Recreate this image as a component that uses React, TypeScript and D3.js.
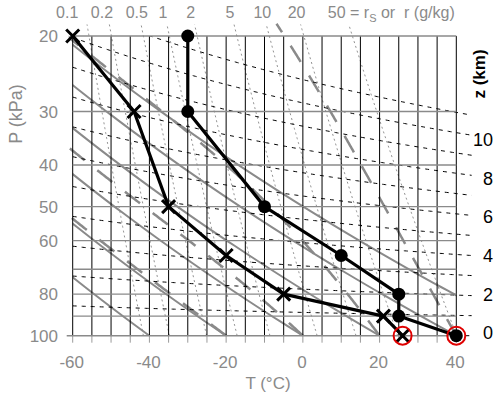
import React from 'react';
import * as d3 from 'd3';

const W = 494;
const H = 399;

// Sounding: temperature (dots) and dew point (crosses), T in °C, P in kPa
const tempP = [100, 90, 80, 65, 50, 30, 20];
const tempT = [40, 25, 25, 10, -10, -30, -30];
const dewP = [100, 90, 80, 65, 50, 30, 20];
const dewT = [26, 21, -5, -20, -35, -44, -60];

// Axes
const pressureTicks = [20, 30, 40, 50, 60, 80, 100];
const isobars = [20, 30, 40, 50, 60, 70, 80, 90, 100];
const tempTicks = [-60, -40, -20, 0, 20, 40];
const isotherms = [-60, -55, -50, -45, -40, -35, -30, -25, -20, -15, -10, -5, 0, 5, 10, 15, 20, 25, 30, 35, 40];

// Reference lines
const dryAdiabats = [-40, -20, 0, 20, 40, 60]; // potential temperature, °C
const moistAdiabats = [-20, 0, 20, 40]; // wet-bulb potential temperature, °C
const mixingRatios = [0.1, 0.2, 0.5, 1, 2, 5, 10, 20, 50]; // g/kg
const heightLines = [1, 2, 3, 4, 5, 6, 7, 8, 9, 10, 11]; // km
const heightLabels = [0, 2, 4, 6, 8, 10]; // km

const Rd = 287;
const cp = 1004;
const Lv = 2.5e6;
const eps = 0.622;
const g = 9.8;
const kappa = Rd / cp;

const x = d3.scaleLinear().domain([-60, 40]).range([72.7, 456.3]);
const y = d3.scaleLog().domain([100, 20]).range([335.7, 36]);

const line = d3
  .line<[number, number]>()
  .x((d) => x(d[0]))
  .y((d) => y(d[1]));

// saturation vapour pressure over water (kPa), T in °C
const es = (t: number) => 0.6112 * Math.exp((17.67 * t) / (t + 243.5));

const logSteps = (p0: number, p1: number, n: number) =>
  d3.range(n + 1).map((i) => p0 * Math.pow(p1 / p0, i / n));

const dryPath = (theta: number) =>
  line(logSteps(100, 20, 80).map((p) => [(theta + 273.15) * Math.pow(p / 100, kappa) - 273.15, p]));

const mixPoint = (r: number, p: number): [number, number] => {
  const e = (r * p) / (622 + r);
  const l = Math.log(e / 0.6112);
  return [(243.5 * l) / (17.67 - l), p];
};
const mixPath = (r: number) => line(logSteps(100, 18.8, 60).map((p) => mixPoint(r, p)));

// pseudo-adiabatic dT/dlnP
const moistRate = (tk: number, p: number) => {
  const e = es(tk - 273.15);
  const rs = (eps * e) / (p - e);
  return (Rd * tk + Lv * rs) / (cp + (Lv * Lv * rs * eps) / (Rd * tk * tk));
};
const moistPath = (thetaW: number) => {
  const pts: [number, number][] = [];
  let tk = thetaW + 273.15;
  let lp = Math.log(100);
  const end = Math.log(18.8);
  const h = -0.005;
  pts.push([tk - 273.15, 100]);
  while (lp > end) {
    const k1 = moistRate(tk, Math.exp(lp));
    const k2 = moistRate(tk + k1 * h, Math.exp(lp + h));
    tk += ((k1 + k2) / 2) * h;
    lp += h;
    pts.push([tk - 273.15, Math.exp(lp)]);
  }
  return line(pts);
};

// height of isobaric surface in an isothermal layer
const heightP = (zKm: number, t: number) => 100 * Math.exp((-zKm * 1000 * g) / (Rd * (t + 273.15)));
const heightPath = (zKm: number) =>
  line(d3.range(-60, 44.01, 0.5).map((t) => [t, heightP(zKm, t)] as [number, number]));

const gray = '#8a8a8a';
const font = "'Liberation Sans', Arial, Helvetica, sans-serif";

function Cross({ cx, cy, s, color = '#000' }: { cx: number; cy: number; s: number; color?: string }) {
  return (
    <path
      d={`M${cx - s},${cy - s}L${cx + s},${cy + s}M${cx - s},${cy + s}L${cx + s},${cy - s}`}
      stroke={color}
      strokeWidth={3}
      fill="none"
    />
  );
}

export default function App() {
  const x0 = x(-60);
  const x1 = x(40);
  const yTop = y(20);
  const yBot = y(100);

  // mixing-ratio labels along the top, kept from overlapping
  const mixTop = mixingRatios.map((r) => x(mixPoint(r, 18.8)[0]) - 4);
  const labelW = mixingRatios.map((r) => String(r).length * 8.6);
  const mixLabelX = [...mixTop];
  for (let i = mixLabelX.length - 3; i >= 0; i--) {
    const maxX = mixLabelX[i + 1] - labelW[i + 1] / 2 - 9 - labelW[i] / 2;
    if (mixLabelX[i] > maxX) mixLabelX[i] = maxX;
  }
  const lastR = mixingRatios[mixingRatios.length - 1];
  const lastX = mixTop[mixTop.length - 1] - 8;

  const tempPts = tempT.map((t, i) => [t, tempP[i]] as [number, number]);
  const dewPts = dewT.map((t, i) => [t, dewP[i]] as [number, number]);

  return (
    <svg
      width={W}
      height={H}
      viewBox={`0 0 ${W} ${H}`}
      style={{ position: 'absolute', left: 0, top: 0, background: '#fff' }}
      fontFamily={font}
    >
      <defs>
        <clipPath id="plotClip">
          <rect x={x0} y={yTop} width={x1 - x0} height={yBot - yTop} />
        </clipPath>
        <clipPath id="upperClip">
          <rect x={x0 - 4} y={15} width={x1 - x0 + 8} height={yBot - 15} />
        </clipPath>
        <clipPath id="heightClip">
          <rect x={x0} y={yTop} width={x(44) - x0 + 1} height={yBot - yTop + 2} />
        </clipPath>
      </defs>

      {/* saturation mixing ratio lines */}
      <g fill="none" stroke="#939393" strokeWidth={1} strokeDasharray="2,3">
        {mixingRatios.map((r) => (
          <path key={r} d={mixPath(r) ?? ''} />
        ))}
      </g>

      {/* dry adiabats */}
      <g clipPath="url(#plotClip)" fill="none" stroke={gray} strokeWidth={2}>
        {dryAdiabats.map((th) => (
          <path key={th} d={dryPath(th) ?? ''} />
        ))}
      </g>

      {/* moist adiabats */}
      <g clipPath="url(#upperClip)" fill="none" stroke={gray} strokeWidth={2.5} strokeDasharray="19,16">
        {moistAdiabats.map((th) => (
          <path key={th} d={moistPath(th) ?? ''} />
        ))}
      </g>

      {/* height contours */}
      <g clipPath="url(#heightClip)" fill="none" stroke="#000" strokeWidth={1} strokeDasharray="4,5">
        {heightLines.map((z) => (
          <path key={z} d={heightPath(z) ?? ''} />
        ))}
        <path d={line([[40, 100], [44, 100]]) ?? ''} />
      </g>

      {/* isotherms */}
      <g stroke="#000" strokeWidth={1}>
        {isotherms.map((t) => (
          <line key={t} x1={x(t)} x2={x(t)} y1={yTop} y2={yBot} />
        ))}
      </g>
      <g stroke="#9a9a9a" strokeWidth={1}>
        {isotherms.map((t) => (
          <line key={t} x1={x(t)} x2={x(t)} y1={yBot} y2={yBot + 7} />
        ))}
      </g>

      {/* isobars */}
      <g stroke={gray} strokeWidth={1.4}>
        {isobars.map((p) => (
          <line key={p} x1={p === 100 ? x0 - 6 : x0} x2={x1} y1={y(p)} y2={y(p)} />
        ))}
      </g>

      {/* sounding */}
      <path d={line(dewPts) ?? ''} fill="none" stroke="#000" strokeWidth={3.2} strokeLinejoin="round" />
      <path d={line(tempPts) ?? ''} fill="none" stroke="#000" strokeWidth={3.2} strokeLinejoin="round" />
      {tempPts.map((d, i) => (
        <circle key={i} cx={x(d[0])} cy={y(d[1])} r={6.5} fill="#000" />
      ))}
      {dewPts.map((d, i) => (
        <Cross key={i} cx={x(d[0])} cy={y(d[1])} s={6.5} />
      ))}
      <circle cx={x(tempT[0])} cy={y(tempP[0])} r={9} fill="none" stroke="#e00000" strokeWidth={2} />
      <circle cx={x(dewT[0])} cy={y(dewP[0])} r={9} fill="none" stroke="#e00000" strokeWidth={2} />

      {/* pressure axis */}
      <g fill={gray} fontSize={17} textAnchor="end">
        {pressureTicks.map((p) => (
          <text key={p} x={58} y={y(p) + 6}>
            {p}
          </text>
        ))}
      </g>
      <text transform="translate(22,114) rotate(-90)" textAnchor="middle" fill={gray} fontSize={18}>
        P (kPa)
      </text>

      {/* temperature axis */}
      <g fill={gray} fontSize={17} textAnchor="middle">
        {tempTicks.map((t) => (
          <text key={t} x={x(t) - 1} y={368}>
            {t}
          </text>
        ))}
      </g>
      <text x={268} y={389} textAnchor="middle" fill={gray} fontSize={17}>
        T (°C)
      </text>

      {/* mixing-ratio labels */}
      <g fill={gray} fontSize={16} textAnchor="middle">
        {mixingRatios.slice(0, -1).map((r, i) => (
          <text key={r} x={mixLabelX[i]} y={18}>
            {r}
          </text>
        ))}
      </g>
      <text x={lastX - 9} y={18} fill={gray} fontSize={16} style={{ whiteSpace: 'pre' }}>
        {lastR} = r<tspan fontSize={11} dy={4}>S</tspan>
        <tspan dy={-4}>{' or  r (g/kg)'}</tspan>
      </text>

      {/* height axis */}
      <g fill="#000" fontSize={18} textAnchor="end">
        {heightLabels.map((z) => (
          <text key={z} x={493} y={y(heightP(z, 56)) + 3.5}>
            {z}
          </text>
        ))}
      </g>
      <text transform="translate(485,74) rotate(-90)" textAnchor="middle" fill="#000" fontSize={17} fontWeight="bold">
        z (km)
      </text>
    </svg>
  );
}
